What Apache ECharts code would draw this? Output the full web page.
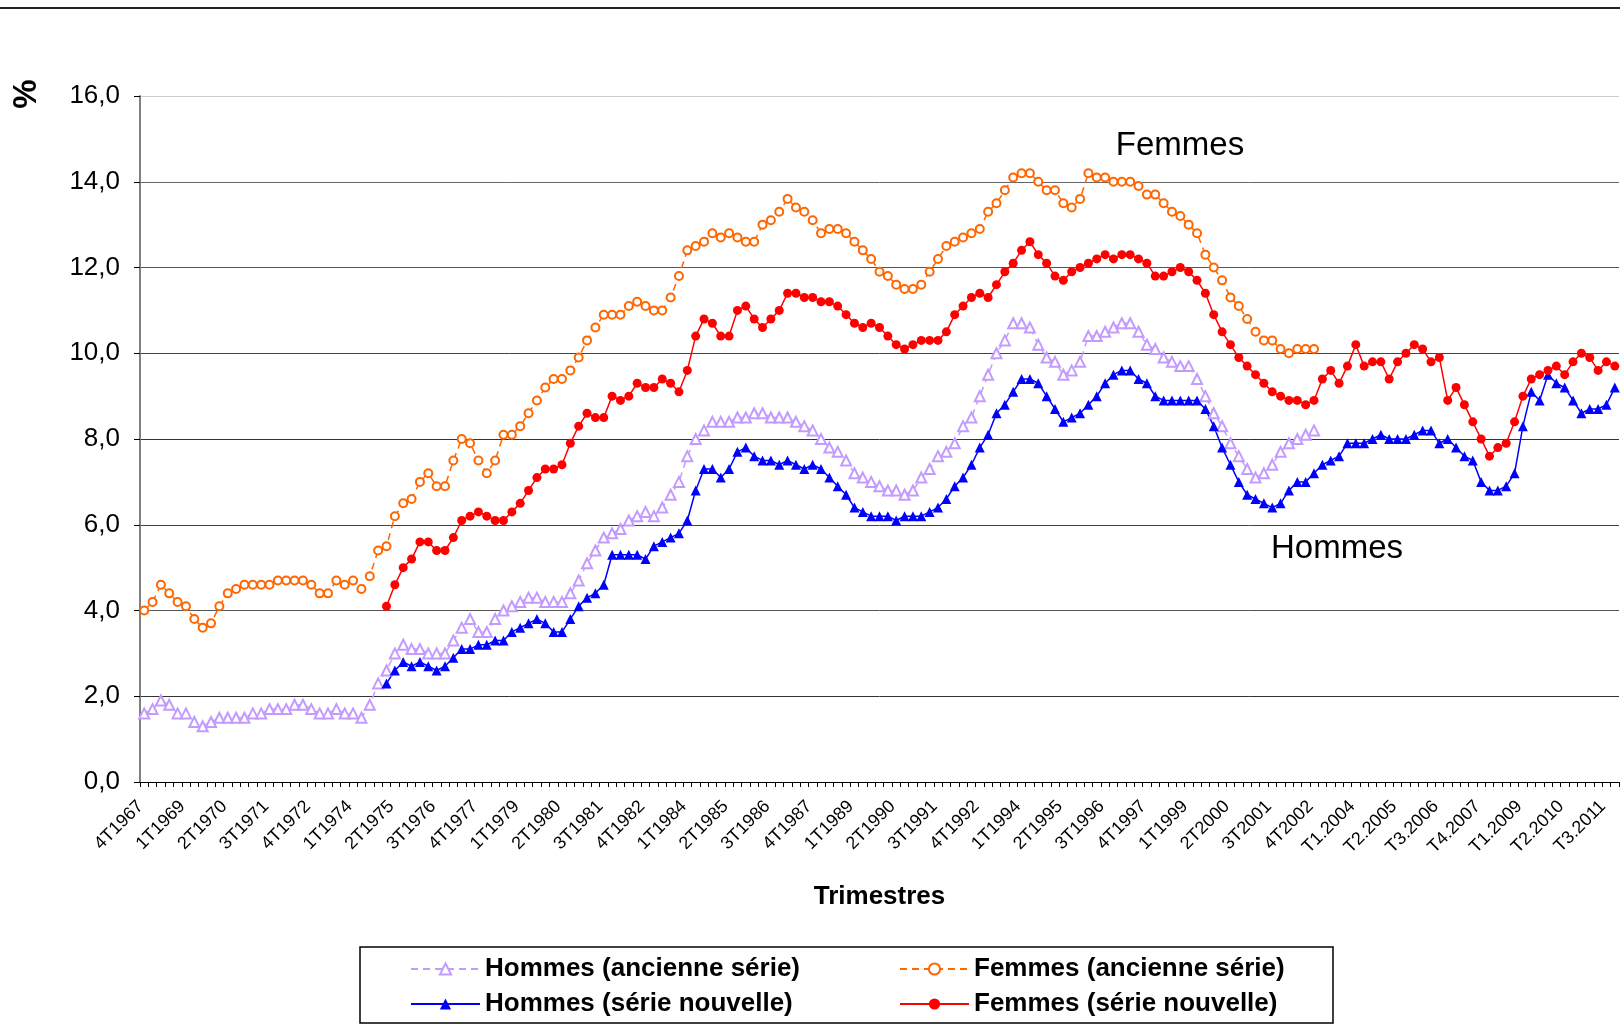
<!DOCTYPE html>
<html>
<head>
<meta charset="utf-8">
<script src="https://cdn.jsdelivr.net/npm/echarts@6/dist/echarts.min.js"></script>
<style>
html, body { margin: 0; padding: 0; background: #fff; }
#chart { width: 1620px; height: 1028px; }
</style>
</head>
<body>
<div id="chart"></div>
<script>
// trimestres : 4T1967 -> T4.2011 (177 trimestres)
var firstYear = 1967, firstQuarter = 4, nbQuarters = 177;

// ancienne série : 4T1967 -> 4T2002
var hommesAncienne = [
	1.6,1.7,1.9,1.8,1.6,1.6,1.4,1.3,1.4,1.5,
	1.5,1.5,1.5,1.6,1.6,1.7,1.7,1.7,1.8,1.8,
	1.7,1.6,1.6,1.7,1.6,1.6,1.5,1.8,2.3,2.6,
	3.0,3.2,3.1,3.1,3.0,3.0,3.0,3.3,3.6,3.8,
	3.5,3.5,3.8,4.0,4.1,4.2,4.3,4.3,4.2,4.2,
	4.2,4.4,4.7,5.1,5.4,5.7,5.8,5.9,6.1,6.2,
	6.3,6.2,6.4,6.7,7.0,7.6,8.0,8.2,8.4,8.4,
	8.4,8.5,8.5,8.6,8.6,8.5,8.5,8.5,8.4,8.3,
	8.2,8.0,7.8,7.7,7.5,7.2,7.1,7.0,6.9,6.8,
	6.8,6.7,6.8,7.1,7.3,7.6,7.7,7.9,8.3,8.5,
	9.0,9.5,10.0,10.3,10.7,10.7,10.6,10.2,9.9,9.8,
	9.5,9.6,9.8,10.4,10.4,10.5,10.6,10.7,10.7,10.5,
	10.2,10.1,9.9,9.8,9.7,9.7,9.4,9.0,8.6,8.3,
	7.9,7.6,7.3,7.1,7.2,7.4,7.7,7.9,8.0,8.1,8.2
];
var femmesAncienne = [
	4.0,4.2,4.6,4.4,4.2,4.1,3.8,3.6,3.7,4.1,
	4.4,4.5,4.6,4.6,4.6,4.6,4.7,4.7,4.7,4.7,
	4.6,4.4,4.4,4.7,4.6,4.7,4.5,4.8,5.4,5.5,
	6.2,6.5,6.6,7.0,7.2,6.9,6.9,7.5,8.0,7.9,
	7.5,7.2,7.5,8.1,8.1,8.3,8.6,8.9,9.2,9.4,
	9.4,9.6,9.9,10.3,10.6,10.9,10.9,10.9,11.1,11.2,
	11.1,11.0,11.0,11.3,11.8,12.4,12.5,12.6,12.8,12.7,
	12.8,12.7,12.6,12.6,13.0,13.1,13.3,13.6,13.4,13.3,
	13.1,12.8,12.9,12.9,12.8,12.6,12.4,12.2,11.9,11.8,
	11.6,11.5,11.5,11.6,11.9,12.2,12.5,12.6,12.7,12.8,
	12.9,13.3,13.5,13.8,14.1,14.2,14.2,14.0,13.8,13.8,
	13.5,13.4,13.6,14.2,14.1,14.1,14.0,14.0,14.0,13.9,
	13.7,13.7,13.5,13.3,13.2,13.0,12.8,12.3,12.0,11.7,
	11.3,11.1,10.8,10.5,10.3,10.3,10.1,10.0,10.1,10.1,10.1
];

// série nouvelle : 1T1975 -> T4.2011
var debutNouvelle = 29;
var hommesNouvelle = [
	2.3,
	2.6,2.8,2.7,2.8,2.7,2.6,2.7,2.9,3.1,3.1,
	3.2,3.2,3.3,3.3,3.5,3.6,3.7,3.8,3.7,3.5,
	3.5,3.8,4.1,4.3,4.4,4.6,5.3,5.3,5.3,5.3,
	5.2,5.5,5.6,5.7,5.8,6.1,6.8,7.3,7.3,7.1,
	7.3,7.7,7.8,7.6,7.5,7.5,7.4,7.5,7.4,7.3,
	7.4,7.3,7.1,6.9,6.7,6.4,6.3,6.2,6.2,6.2,
	6.1,6.2,6.2,6.2,6.3,6.4,6.6,6.9,7.1,7.4,
	7.8,8.1,8.6,8.8,9.1,9.4,9.4,9.3,9.0,8.7,
	8.4,8.5,8.6,8.8,9.0,9.3,9.5,9.6,9.6,9.4,
	9.3,9.0,8.9,8.9,8.9,8.9,8.9,8.7,8.3,7.8,
	7.4,7.0,6.7,6.6,6.5,6.4,6.5,6.8,7.0,7.0,
	7.2,7.4,7.5,7.6,7.9,7.9,7.9,8.0,8.1,8.0,
	8.0,8.0,8.1,8.2,8.2,7.9,8.0,7.8,7.6,7.5,
	7.0,6.8,6.8,6.9,7.2,8.3,9.1,8.9,9.5,9.3,
	9.2,8.9,8.6,8.7,8.7,8.8,9.2
];
var femmesNouvelle = [
	4.1,
	4.6,5.0,5.2,5.6,5.6,5.4,5.4,5.7,6.1,6.2,
	6.3,6.2,6.1,6.1,6.3,6.5,6.8,7.1,7.3,7.3,
	7.4,7.9,8.3,8.6,8.5,8.5,9.0,8.9,9.0,9.3,
	9.2,9.2,9.4,9.3,9.1,9.6,10.4,10.8,10.7,10.4,
	10.4,11.0,11.1,10.8,10.6,10.8,11.0,11.4,11.4,11.3,
	11.3,11.2,11.2,11.1,10.9,10.7,10.6,10.7,10.6,10.4,
	10.2,10.1,10.2,10.3,10.3,10.3,10.5,10.9,11.1,11.3,
	11.4,11.3,11.6,11.9,12.1,12.4,12.6,12.3,12.1,11.8,
	11.7,11.9,12.0,12.1,12.2,12.3,12.2,12.3,12.3,12.2,
	12.1,11.8,11.8,11.9,12.0,11.9,11.7,11.4,10.9,10.5,
	10.2,9.9,9.7,9.5,9.3,9.1,9.0,8.9,8.9,8.8,
	8.9,9.4,9.6,9.3,9.7,10.2,9.7,9.8,9.8,9.4,
	9.8,10.0,10.2,10.1,9.8,9.9,8.9,9.2,8.8,8.4,
	8.0,7.6,7.8,7.9,8.4,9.0,9.4,9.5,9.6,9.7,
	9.5,9.8,10.0,9.9,9.6,9.8,9.7
];

var yTicks = [0, 2, 4, 6, 8, 10, 12, 14, 16];

// libellés des trimestres (format "4T1967" jusqu'en 2002, puis "T1.2003")
var trimestres = [];
for (var i = 0; i < nbQuarters; i++)
{
	var n = firstQuarter - 1 + i;
	var annee = firstYear + Math.floor(n / 4);
	var q = (n % 4) + 1;
	trimestres.push(annee < 2003 ? q + 'T' + annee : 'T' + q + '.' + annee);
}

// complète une série avec des valeurs vides
function pad(values, start)
{
	var out = [];
	for (var i = 0; i < nbQuarters; i++)
	{
		var k = i - start;
		out.push(k >= 0 && k < values.length ? values[k] : null);
	}
	return out;
}

var font = '"Liberation Sans", Arial, sans-serif';
var myChart = echarts.init(document.getElementById('chart'));

function legendItem(name, left, top)
{
	return {
		data : [ name ],
		left : left,
		top : top,
		itemWidth : 69,
		itemHeight : 14,
		textStyle : { fontFamily : font, fontSize : 26, fontWeight : 'bold', color : '#000' }
	};
}

var option =
{
	backgroundColor : '#fff',
	animation : false,
	grid : { left : 140, right : 1, top : 96, bottom : 246 },
	legend : [
		legendItem('Hommes (ancienne série)', 405, 951),
		legendItem('Femmes (ancienne série)', 894, 951),
		legendItem('Hommes (série nouvelle)', 405, 986),
		legendItem('Femmes (série nouvelle)', 894, 986)
	],
	xAxis :
	{
		type : 'category',
		data : trimestres,
		boundaryGap : true,
		name : 'Trimestres',
		nameLocation : 'middle',
		nameGap : 102,
		nameTextStyle : { fontFamily : font, fontSize : 26, fontWeight : 'bold', color : '#000' },
		axisLine : { lineStyle : { color : '#000', width : 1 } },
		axisTick : { show : true, interval : 0, length : 5, lineStyle : { color : '#000' } },
		axisLabel : { interval : 4, rotate : 45, margin : 18, padding : [ 0, 5, 0, 0 ], fontFamily : font, fontSize : 18, color : '#000' },
		splitLine : { show : false }
	},
	yAxis :
	{
		type : 'value',
		min : yTicks[0],
		max : yTicks[yTicks.length - 1],
		interval : 2,
		axisLine : { show : true, lineStyle : { color : '#808080', width : 2 } },
		axisTick : { show : true, length : 6, lineStyle : { color : '#000' } },
		axisLabel : {
			margin : 20, fontFamily : font, fontSize : 26, color : '#000',
			formatter : function (v) { return v.toFixed(1).replace('.', ','); }
		},
		splitLine : { lineStyle : { width : 1, color : [ '#000', '#333', '#555', '#444', '#333', '#444', '#555', '#666', '#ccc' ] } }
	},
	series : [
	{
		name : 'Hommes (ancienne série)',
		type : 'line',
		data : pad(hommesAncienne, 0),
		symbol : 'emptyTriangle',
		symbolSize : 10,
		showAllSymbol : true,
		lineStyle : { color : '#c39bff', width : 1.5, type : [ 7, 5 ] },
		itemStyle : { color : '#c39bff', borderWidth : 1.5 }
	},
	{
		name : 'Femmes (ancienne série)',
		type : 'line',
		data : pad(femmesAncienne, 0),
		symbol : 'emptyCircle',
		symbolSize : 8,
		showAllSymbol : true,
		lineStyle : { color : '#ff6600', width : 1.5, type : [ 7, 5 ] },
		itemStyle : { color : '#ff6600', borderWidth : 1.5 }
	},
	{
		name : 'Hommes (série nouvelle)',
		type : 'line',
		data : pad(hommesNouvelle, debutNouvelle),
		symbol : 'triangle',
		symbolSize : 10,
		showAllSymbol : true,
		lineStyle : { color : '#0000ff', width : 1.5 },
		itemStyle : { color : '#0000ff' }
	},
	{
		name : 'Femmes (série nouvelle)',
		type : 'line',
		data : pad(femmesNouvelle, debutNouvelle),
		symbol : 'circle',
		symbolSize : 9,
		showAllSymbol : true,
		lineStyle : { color : '#ff0000', width : 1.5 },
		itemStyle : { color : '#ff0000' }
	} ],
	graphic : [
	{
		type : 'line',
		shape : { x1 : 0, y1 : 8, x2 : 1620, y2 : 8 },
		style : { stroke : '#222', lineWidth : 2 }
	},
	{
		type : 'text',
		x : 27, y : 94,
		rotation : Math.PI / 2,
		style : { text : '%', fontFamily : font, fontSize : 33, fontWeight : 'bold', fill : '#000', align : 'center', verticalAlign : 'middle' }
	},
	{
		type : 'text',
		x : 1180, y : 146,
		style : { text : 'Femmes', fontFamily : font, fontSize : 33, fill : '#000', align : 'center', verticalAlign : 'middle' }
	},
	{
		type : 'text',
		x : 1337, y : 549,
		style : { text : 'Hommes', fontFamily : font, fontSize : 33, fill : '#000', align : 'center', verticalAlign : 'middle' }
	},
	{
		type : 'rect',
		shape : { x : 360, y : 947, width : 973, height : 76 },
		style : { fill : 'none', stroke : '#000', lineWidth : 1.5 }
	} ]
};

myChart.setOption(option);
</script>
</body>
</html>
